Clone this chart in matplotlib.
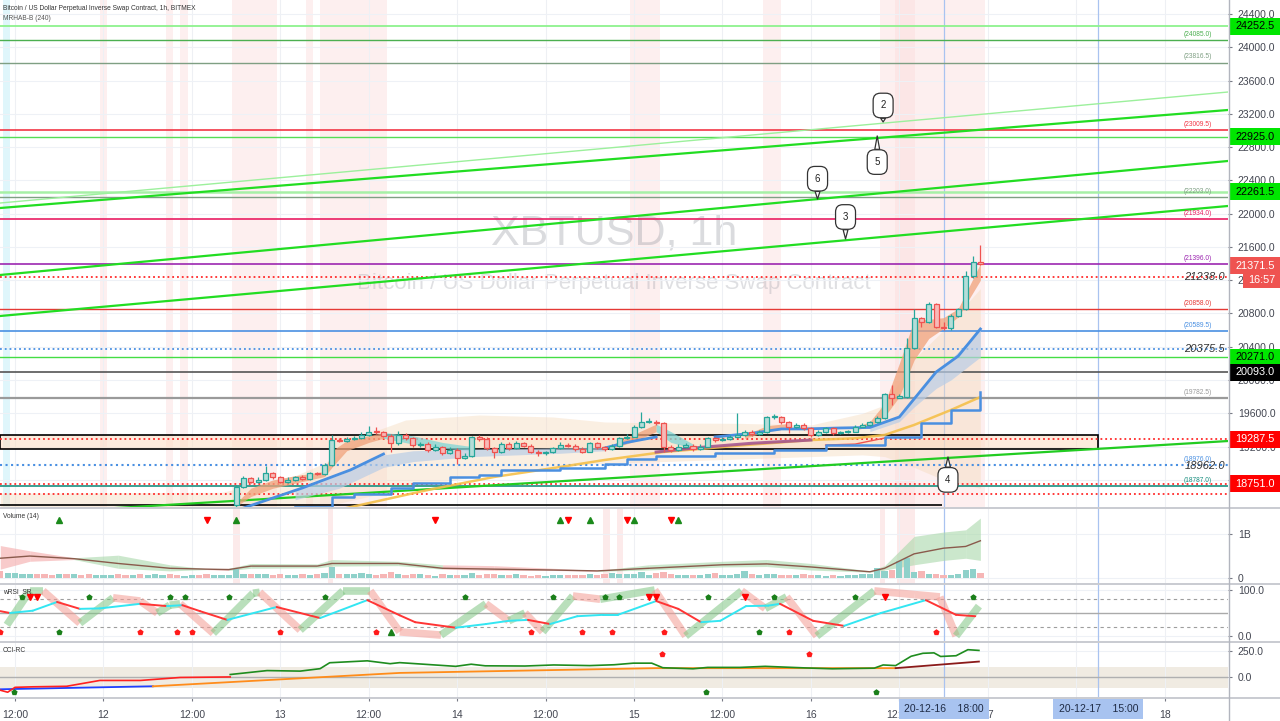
import numpy as np
import matplotlib
matplotlib.use("Agg")
import matplotlib.pyplot as plt
import matplotlib.transforms as mtransforms
from matplotlib.patches import Rectangle
from matplotlib.lines import Line2D

plt.rcParams['font.family'] = ['Liberation Sans', 'DejaVu Sans']

# ---------------------------
# 1. DATA  (x = hours since 2020-12-11 00:00, XBTUSD 1h)
# ---------------------------
first_hour = 42
first_open = 18500
closes = [18714, 18823, 18775, 18800, 18880, 18830, 18775, 18800, 18830, 18815,
          18880, 18870, 18980, 19280, 19270, 19290, 19300, 19340, 19380, 19370,
          19330, 19240, 19340, 19300, 19220, 19230, 19160, 19190, 19120, 19160,
          19060, 19090, 19310, 19290, 19180, 19130, 19230, 19180, 19240, 19210,
          19140, 19120, 19130, 19180, 19220, 19210, 19170, 19140, 19240, 19190,
          19170, 19210, 19300, 19320, 19430, 19490, 19500, 19480, 19200, 19160,
          19200, 19210, 19170, 19200, 19300, 19280, 19290, 19320, 19340, 19380,
          19350, 19370, 19550, 19560, 19490, 19430, 19460, 19420, 19340, 19370,
          19420, 19360, 19370, 19380, 19440, 19460, 19495, 19545, 19830, 19790,
          19800, 20385, 20750, 20700, 20915, 20640, 20620, 20770, 20855, 21250,
          21420, 21400]
highs = [18740, 18850, 18840, 18830, 18967, 18900, 18850, 18830, 18850, 18860,
         18900, 18900, 19000, 19340, 19300, 19320, 19330, 19370, 19450, 19440,
         19390, 19350, 19390, 19360, 19320, 19260, 19250, 19230, 19210, 19190,
         19180, 19120, 19330, 19340, 19310, 19200, 19260, 19250, 19270, 19260,
         19230, 19160, 19150, 19200, 19250, 19240, 19230, 19190, 19260, 19260,
         19210, 19230, 19320, 19350, 19460, 19620, 19540, 19520, 19500, 19220,
         19230, 19240, 19230, 19230, 19320, 19320, 19310, 19340, 19600, 19400,
         19400, 19400, 19570, 19590, 19570, 19510, 19480, 19480, 19440, 19400,
         19440, 19440, 19390, 19400, 19460, 19480, 19510, 19570, 19850, 19940,
         19830, 20505, 20855, 20760, 20940, 20930, 20700, 20790, 20870, 21305,
         21490, 21620]
lows = [18480, 18700, 18760, 18760, 18790, 18815, 18760, 18765, 18790, 18800,
        18800, 18855, 18860, 18970, 19250, 19260, 19280, 19290, 19330, 19350,
        19310, 19135, 19220, 19280, 19200, 19200, 19140, 19150, 19100, 19110,
        18990, 19050, 19080, 19270, 19160, 19060, 19120, 19160, 19170, 19190,
        19120, 19090, 19100, 19120, 19170, 19190, 19150, 19120, 19130, 19170,
        19150, 19160, 19200, 19290, 19310, 19420, 19480, 19460, 19140, 19130,
        19150, 19180, 19150, 19160, 19190, 19260, 19270, 19280, 19310, 19330,
        19330, 19340, 19360, 19530, 19470, 19360, 19420, 19400, 19320, 19330,
        19360, 19340, 19350, 19360, 19370, 19430, 19450, 19480, 19530, 19700,
        19780, 19790, 20370, 20640, 20690, 20620, 20600, 20600, 20760, 20840,
        21230, 21380]

# volume, hours 10..143 (billions)
vol_first = 10
volumes = [0.16, 0.12, 0.11, 0.10, 0.10, 0.08, 0.09, 0.07, 0.09, 0.08,
           0.10, 0.07, 0.09, 0.07, 0.06, 0.07, 0.10, 0.07, 0.06, 0.08,
           0.06, 0.09, 0.07, 0.08, 0.06, 0.05, 0.07, 0.06, 0.08, 0.07, 0.06, 0.07,
           0.20, 0.09, 0.10, 0.08, 0.08, 0.07, 0.09, 0.07, 0.06, 0.10,
           0.07, 0.08, 0.12, 0.24, 0.08, 0.09, 0.10, 0.12, 0.08, 0.07,
           0.10, 0.14, 0.08, 0.06, 0.10, 0.09, 0.06, 0.05, 0.08, 0.07,
           0.06, 0.07, 0.12, 0.06, 0.09, 0.08, 0.07, 0.06, 0.08, 0.06,
           0.05, 0.06, 0.05, 0.06, 0.07, 0.06, 0.07, 0.06, 0.08, 0.06,
           0.08, 0.12, 0.10, 0.10, 0.08, 0.14, 0.06, 0.12, 0.14, 0.10,
           0.06, 0.07, 0.06, 0.07, 0.10, 0.12, 0.06, 0.07, 0.10, 0.16,
           0.08, 0.06, 0.09, 0.08, 0.06, 0.07, 0.06, 0.08, 0.06, 0.06,
           0.05, 0.06, 0.05, 0.06, 0.07, 0.08, 0.10, 0.22, 0.16, 0.18,
           0.38, 0.45, 0.14, 0.16, 0.08, 0.09, 0.07, 0.06, 0.09, 0.18, 0.20, 0.12]
early_dir = "rggggrrrgrgrrgggrrgrgggrrggrrggg"

vma_t = [10, 14, 20, 26, 33, 38, 41, 44, 53, 55, 64, 70, 77, 85, 91, 98, 108, 114, 120, 128, 130, 134, 138, 141, 143]
vma = [0.45, 0.50, 0.44, 0.33, 0.22, 0.20, 0.19, 0.27, 0.27, 0.33, 0.33, 0.22, 0.20, 0.18, 0.16, 0.22, 0.30, 0.32, 0.25, 0.14, 0.22, 0.55, 0.68, 0.72, 0.85]
vma_hi = [0.74, 0.62, 0.46, 0.52, 0.30, 0.21, 0.22, 0.33, 0.32, 0.42, 0.38, 0.30, 0.28, 0.22, 0.17, 0.30, 0.38, 0.42, 0.33, 0.16, 0.28, 0.95, 1.05, 1.10, 1.37]
vma_lo = [0.20, 0.38, 0.42, 0.22, 0.16, 0.19, 0.17, 0.22, 0.23, 0.27, 0.28, 0.20, 0.17, 0.17, 0.15, 0.18, 0.25, 0.26, 0.18, 0.13, 0.18, 0.30, 0.40, 0.45, 0.40]
vma_col = "rrgggrgggggrrrggggggggggg"
vol_up_marks = [18, 42, 86, 90, 96, 102]
vol_dn_marks = [38, 69, 87, 95, 101]

# horizontal levels
level_prices = [24252.5, 24085.0, 23816.5, 23009.5, 22925.0, 22261.5, 22203.0, 21934.0,
                21396.0, 21238.0, 20858.0, 20589.5, 20375.5, 20271.0, 20093.0, 19782.5,
                19287.5, 18976.0, 18727.0, 18751.0, 18630.0]
level_tags = [None, '(24085.0)', '(23816.5)', '(23009.5)', None, None, '(22203.0)', '(21934.0)',
              '(21396.0)', None, '(20858.0)', '(20589.5)', None, None, None, '(19782.5)',
              None, '(18976.0)', '(18787.0)', None, None]
italic_prices = [21238.0, 20375.5, 18962.0]
bottom_black = 18498
box_low, box_high, box_end = 19171, 19340, 159

# trend lines drawn from hour 10 to hour 176.6
trend_start = [22128, 22068, 21263, 20770, 18378]
trend_end = [23462, 23246, 22633, 22092, 19267]

# axis price tags
tag_prices = [24252.5, 22925.0, 22261.5, 21371.5, 20271.0, 20093.0, 19287.5, 18751.0]

# callouts
callout_labels = ['2', '5', '6', '3', '4']
callout_t = [129.8, 129.0, 120.9, 124.7, 138.6]
callout_point = [23102, 22934, 22176, 21696, 19075]
callout_text = [23300, 22620, 22420, 21960, 18800]

# session shading
main_bands = [(23.5, 24.5), (32.5, 33.4), (34.4, 35.5), (41.4, 47.5), (51.5, 52.4),
              (53.4, 62.5), (95.5, 99.5), (113.5, 116.0), (129.4, 143.6), (131.4, 134.1)]
vol_bands = [(41.6, 42.5), (54.5, 55.2), (91.8, 92.7), (93.7, 94.5), (129.4, 130.1), (131.7, 134.1)]

# price overlays
env_t = [10, 40, 50, 55, 60, 65, 75, 85, 92, 100, 110, 120, 127, 130, 134, 138, 143]
env_hi = [18640, 18650, 18850, 19040, 19360, 19520, 19580, 19556, 19496, 19484, 19480, 19460, 19600, 19700, 20250, 20600, 21100]
env_lo = [18300, 18350, 18420, 18500, 18600, 18700, 18850, 18950, 19000, 19020, 19050, 19080, 19100, 19080, 18950, 18800, 18700]

salmon_t = [[42, 44, 47, 50, 54, 55, 57, 60, 62], [93, 96, 99], [111, 114, 117],
            [126, 128, 130, 132, 134, 136, 138, 140, 143]]
salmon_lo = [[18480, 18600, 18700, 18760, 18840, 18950, 19150, 19250, 19300], [19180, 19260, 19380],
             [19300, 19380, 19420], [19400, 19440, 19560, 19800, 20240, 20500, 20620, 20760, 21200]]
salmon_hi = [[18520, 18700, 18800, 18850, 18900, 19150, 19270, 19330, 19370], [19220, 19350, 19470],
             [19340, 19450, 19480], [19430, 19500, 19720, 20200, 20720, 20730, 20750, 20860, 21400]]
cyan_t = [[62, 66, 70, 74], [99, 101, 104]]
cyan_lo = [[19300, 19230, 19180, 19150], [19380, 19250, 19180]]
cyan_hi = [[19370, 19330, 19250, 19200], [19470, 19380, 19230]]

sky_t = [50, 56, 62, 66, 74, 86, 92]
sky_hi = [18690, 18860, 19100, 19150, 19170, 19185, 19190]
sky_lo = [18560, 18700, 18950, 19020, 19080, 19120, 19150]
sky2_t = [128, 132, 134, 137, 139, 143]
sky2_hi = [19430, 19556, 19800, 20097, 20250, 20614]
sky2_lo = [19380, 19500, 19676, 19900, 20001, 20277]

blue_t = [[43, 51, 57.5, 62], [92, 95, 99], [107, 112, 116, 119, 124, 128, 132, 137, 140, 143]]
blue_p = [[18462, 18703, 18919, 19111], [19183, 19250, 19316],
          [19316, 19360, 19412, 19412, 19424, 19430, 19556, 20097, 20289, 20614]]
step_t = [50, 55, 58, 63, 66, 71, 75, 78, 86, 92, 95, 99, 107, 115, 122, 130, 135, 139, 142, 143]
step_p = [18474, 18594, 18630, 18703, 18763, 18835, 18859, 18919, 18943, 18991, 19051, 19087,
          19123, 19159, 19219, 19316, 19484, 19640, 19640, 19856]
gold_t = [57, 68, 77, 86, 92, 100, 110, 120, 126, 130, 134, 139, 143]
gold_p = [18462, 18678, 18835, 18955, 19039, 19135, 19210, 19279, 19300, 19340, 19460, 19640, 19796]
purple_t = [99, 105, 112, 120]
purple_p = [19135, 19190, 19240, 19279]
thinred_t = [122, 126, 130]
thinred_p = [19219, 19230, 19303]

# wRSI_SR
rsi_t = [10.0, 11.3, 14.4, 17.7, 20.8, 23.5, 29.0, 32.6, 34.7, 37.1, 40.8, 47.5, 50.7, 53.4, 59.8,
         64.2, 66.3, 71.8, 75.9, 79.0, 81.6, 84.6, 88.3, 91.8, 93.8, 99.0, 102.0, 105.1, 107.7,
         111.2, 114.2, 115.8, 120.3, 124.5, 129.5, 135.6, 139.7, 142.3]
rsi_v = [54, 50, 55, 74, 59, 60, 70, 65, 67, 54, 35, 63, 50, 39, 78, 45, 30, 18, 26, 33, 35, 26,
         43, 46, 46, 76, 59, 30, 33, 65, 66, 70, 33, 22, 50, 78, 46, 43]
sig_t = [10.9, 14.0, 15.8, 20.8, 25.3, 29.0, 31.3, 33.0, 34.4, 38.9, 44.3, 45.2, 50.7, 56.5, 60.2,
         64.2, 69.8, 75.9, 79.0, 81.2, 83.6, 87.7, 91.4, 98.8, 103.0, 110.6, 113.8, 116.7, 120.8,
         128.6, 134.1, 137.5, 139.7, 142.8]
sig_v = [24, 98, 98, 28, 83, 76, 50, 67, 70, 6, 93, 95, 13, 98, 98, 9, 2, 70, 33, 50, 9, 87, 80,
         100, 0, 98, 60, 85, 0, 98, 90, 85, 0, 65]
rsi_top_up = [13, 22, 33, 35, 41, 54, 73, 85, 92, 94, 106, 115, 126, 142]
rsi_top_dn = [14, 15, 98, 99, 111, 130]
rsi_bot_red = [10, 29, 34, 36, 48, 61, 82, 89, 93, 100, 117, 137]
rsi_bot_green = [18, 113]
rsi_bot_tri = [63]

# CCI-RC
cci_red_t = [10, 11, 12, 14.4, 19, 23.5, 29, 34.4, 41.2]
cci_red = [-120, -139, -93, -88, -83, -28, -28, 0, 5]
cci_green_t = [41.2, 46.2, 50.7, 53.4, 54.7, 59.8, 62.9, 64.2, 71.8, 73.9, 75.8, 81.2, 85.1, 90.0,
               93.3, 95.9, 98.4, 99.9, 104.0, 106.0, 110.4, 113.8, 119.3, 122.9, 128.6, 129.8,
               131.5, 133.6, 135.2, 136.7, 137.6, 139.7, 141.3, 142.8]
cci_green = [28, 65, 60, 83, 139, 157, 130, 140, 105, 125, 110, 108, 118, 112, 120, 135, 135, 92,
             82, 95, 95, 105, 90, 82, 88, 118, 112, 200, 228, 232, 198, 205, 262, 255]
cci_blue_t = [10, 30.7]
cci_blue = [-111, -83]
cci_orange_t = [30.7, 64.2, 99.0, 131.5]
cci_orange = [-83, 43, 88, 88]
cci_dred_t = [131.5, 142.8]
cci_dred = [88, 150]
cci_up_marks = [11.9, 105.8, 128.8]
cci_dn_marks = [99.8, 119.7]

# ---------------------------
# 2. FIGURE LAYOUT
# ---------------------------
W, H = 1280, 721
fig = plt.figure(figsize=(12.8, 7.21), dpi=100)
fig.patch.set_facecolor('white')


def panel(top, bottom):
    return [0, (H - bottom) / H, 1228 / W, (bottom - top) / H]


ax = fig.add_axes(panel(0, 507))
axv = fig.add_axes(panel(508, 584), sharex=ax)
axr = fig.add_axes(panel(585, 641), sharex=ax)
axc = fig.add_axes(panel(643, 697), sharex=ax)

ticks_12h = np.arange(12, 169, 12)
for a in (ax, axv, axr, axc):
    for s in a.spines.values():
        s.set_visible(False)
    a.yaxis.tick_right()
    a.tick_params(axis='y', length=3, pad=4, labelsize=7.5, colors='#787b86', labelcolor='#434651')
    a.tick_params(axis='x', length=0, labelbottom=False)
    a.set_xticks(ticks_12h)
    a.grid(True, axis='x', color='#eef0f4', lw=0.8)
    a.set_axisbelow(True)
    a.axvline(138, color='#a9c3f0', lw=0.9, zorder=1)
    a.axvline(159, color='#a9c3f0', lw=0.9, zorder=1)
ax.set_xlim(9.96, 176.6)

# ---------------------------
# 3. MAIN PRICE PANEL
# ---------------------------
ax.set_ylim(18474, 24568)
pt = np.arange(18800, 24401, 400)
ax.set_yticks(pt)
ax.set_yticklabels([f"{v:.1f}" for v in pt])
ax.grid(True, axis='y', color='#eef1f6', lw=0.8)

ax.axvspan(10.4, 11.3, color='#dff6fb', lw=0, zorder=0)
for a0, a1 in main_bands:
    ax.axvspan(a0, a1, color='#fbdcdc', alpha=0.45, lw=0, zorder=0)

ax.text(0.5, 1 - 233 / 507, "XBTUSD, 1h", transform=ax.transAxes, ha='center', va='center',
        fontsize=31, color='#9598a1', alpha=0.35, zorder=0.5)
ax.text(0.5, 1 - 284 / 507, "Bitcoin / US Dollar Perpetual Inverse Swap Contract",
        transform=ax.transAxes, ha='center', va='center', fontsize=16, color='#9598a1', alpha=0.3, zorder=0.5)
ax.text(3 / 1228, 1 - 8 / 507, "Bitcoin / US Dollar Perpetual Inverse Swap Contract, 1h, BITMEX",
        transform=ax.transAxes, ha='left', va='center', fontsize=4.8, color='#333333')
ax.text(3 / 1228, 1 - 19 / 507, "MRHAB-B (240)", transform=ax.transAxes, ha='left', va='center',
        fontsize=4.8, color='#555555')

ax.fill_between(env_t, env_lo, env_hi, color='#f6dcc0', alpha=0.45, lw=0, zorder=1)
ax.add_patch(Rectangle((9.96, box_low), box_end - 9.96, box_high - box_low,
                       fc=(0.99, 0.87, 0.76, 0.55), ec='black', lw=1.2, zorder=1.5))

level_styles = [('#8ef28e', '-', 1.3), ('#4caf50', '-', 1.0), ('#7f9f83', '-', 1.0), ('#f23645', '-', 1.2),
                ('#55dd55', '-', 1.0), ('#a6f0a6', '-', 1.8), ('#7f9f83', '-', 1.0), ('#e91e63', '-', 1.2),
                ('#9c27b0', '-', 1.2), ('#ff2a2a', ':', 1.3), ('#e53935', '-', 1.0), ('#4a90e2', '-', 1.2),
                ('#4a90e2', ':', 1.3), ('#44dd44', '-', 1.0), ('#555555', '-', 1.2), ('#9a9a9a', '-', 1.6),
                ('#ff2a2a', ':', 1.3), ('#4a90e2', ':', 1.5), ('#1a8f80', '-', 1.2), ('#ff2a2a', ':', 1.3),
                ('#ff2a2a', ':', 1.3)]
trans = mtransforms.blended_transform_factory(ax.transAxes, ax.transData)
for p, tag, (c, ls, lw) in zip(level_prices, level_tags, level_styles):
    ax.axhline(p, color=c, ls=ls, lw=lw, zorder=2)
    if tag:
        ax.text(1212 / 1228, p + 25, tag, transform=trans, ha='right', va='bottom', fontsize=4.8, color=c)
for p in italic_prices:
    ax.text(1225 / 1228, p, f"{p:.1f}", transform=trans, ha='right', va='center', fontsize=8,
            style='italic', color='#333333', zorder=9)
ax.hlines(bottom_black, 9.96, 137.8, color='black', lw=1.2, zorder=2)

trend_styles = [('#9cf09c', 1.0), ('#22dd22', 1.6), ('#22dd22', 1.6), ('#22dd22', 1.6), ('#22cc22', 1.6)]
for p0, p1, (c, lw) in zip(trend_start, trend_end, trend_styles):
    ax.plot([10, 176.6], [p0, p1], color=c, lw=lw, zorder=2.5)

for tt, lo, hi in zip(salmon_t, salmon_lo, salmon_hi):
    ax.fill_between(tt, lo, hi, color='#f0a27a', alpha=0.75, lw=0, zorder=3)
for tt, lo, hi in zip(cyan_t, cyan_lo, cyan_hi):
    ax.fill_between(tt, lo, hi, color='#7fd6d6', alpha=0.75, lw=0, zorder=3)
ax.fill_between(sky_t, sky_lo, sky_hi, color='#b9cde6', alpha=0.7, lw=0, zorder=3)
ax.fill_between(sky2_t, sky2_lo, sky2_hi, color='#b9cde6', alpha=0.7, lw=0, zorder=3)

ax.plot(gold_t, gold_p, color='#f5c04a', lw=1.8, alpha=0.9, zorder=4)
ax.plot(purple_t, purple_p, color='#a0508f', lw=2.2, alpha=0.85, zorder=4)
ax.plot(thinred_t, thinred_p, color='#ef5350', lw=1.0, zorder=4)
ax.plot(step_t, step_p, color='#4a8fe0', lw=1.8, drawstyle='steps-post', zorder=4)
for tt, pp in zip(blue_t, blue_p):
    ax.plot(tt, pp, color='#4a8fe0', lw=2.0, zorder=4)

# candles
hours = np.arange(first_hour, first_hour + len(closes))
opens = [first_open] + closes[:-1]
for t, o, c, hi, lo in zip(hours, opens, closes, highs, lows):
    up = c >= o
    ec = '#26a69a' if up else '#ef5350'
    fc = '#b4ddd8' if up else '#f7b9b7'
    ax.vlines(t, lo, hi, color=ec, lw=0.9, zorder=5)
    ax.bar(t, max(abs(c - o), 14), bottom=min(o, c), width=0.68, color=fc, edgecolor=ec, lw=0.9, zorder=5.5)

for lab, t, p_pt, p_txt in zip(callout_labels, callout_t, callout_point, callout_text):
    ax.annotate(lab, xy=(t, p_pt), xytext=(t, p_txt), ha='center', va='center', fontsize=7,
                color='#222222', zorder=8,
                bbox=dict(boxstyle='round,pad=0.75', fc='white', ec='#333333', lw=0.9),
                arrowprops=dict(arrowstyle='wedge,tail_width=0.5,shrink_factor=0.5', fc='white',
                                ec='#333333', lw=0.9, shrinkA=0, shrinkB=0))

# price tags on the axis
tag_fc = ['#00e600', '#00e600', '#00e600', '#ef5350', '#00e600', '#000000', '#ff0000', '#ff0000']
tag_tc = ['black', 'black', 'black', 'white', 'black', 'white', 'white', 'white']
for p, fc, tc in zip(tag_prices, tag_fc, tag_tc):
    ax.add_patch(Rectangle((1 + 1 / 1228, p - 8.5 * 12.02), 52 / 1228, 17 * 12.02, transform=trans,
                           clip_on=False, fc=fc, ec='none', zorder=10))
    ax.text(1 + 27 / 1228, p, f"{p:.1f}", transform=trans, ha='center', va='center', fontsize=7.8,
            color=tc, clip_on=False, zorder=11)
ax.add_patch(Rectangle((1 + 15 / 1228, 21197 - 7.5 * 12.02), 38 / 1228, 15 * 12.02, transform=trans,
                       clip_on=False, fc='#ef5350', ec='none', zorder=10))
ax.text(1 + 34 / 1228, 21197, "16:57", transform=trans, ha='center', va='center', fontsize=7.8,
        color='white', clip_on=False, zorder=11)

# ---------------------------
# 4. VOLUME PANEL
# ---------------------------
axv.set_ylim(-0.14, 1.60)
axv.set_yticks([0, 1])
axv.set_yticklabels(['0', '1B'])
axv.grid(True, axis='y', color='#eef1f6', lw=0.8)
for a0, a1 in vol_bands:
    axv.axvspan(a0, a1, color='#fbdcdc', alpha=0.6, lw=0, zorder=0)
vol_hours = np.arange(vol_first, vol_first + len(volumes))
vcols = []
for t in vol_hours:
    if t >= first_hour:
        i = t - first_hour
        up = closes[i] >= opens[i]
    else:
        up = early_dir[t - vol_first] == 'g'
    vcols.append('#8fd1ca' if up else '#f6b6b6')
axv.bar(vol_hours, volumes, width=0.85, color=vcols, zorder=2)
for i in range(len(vma_t) - 1):
    col = '#a9d8aa' if vma_col[i] == 'g' else '#f4a9a9'
    axv.fill_between(vma_t[i:i + 2], vma_lo[i:i + 2], vma_hi[i:i + 2], color=col, alpha=0.6, lw=0, zorder=1.5)
axv.plot(vma_t, vma, color='#8a5a4c', lw=1.0, zorder=3)
axv.plot(vol_up_marks, [1.33] * len(vol_up_marks), '^', color='#1b8a1b', ms=4, zorder=4)
axv.plot(vol_dn_marks, [1.33] * len(vol_dn_marks), 'v', color='#ff0000', ms=4, zorder=4)
axv.text(3 / 1228, 1 - 8 / 76, "Volume (14)", transform=axv.transAxes, ha='left', va='center',
         fontsize=4.8, color='#333333')

# ---------------------------
# 5. wRSI_SR PANEL
# ---------------------------
axr.set_ylim(-10.9, 110.9)
axr.set_yticks([0, 100])
axr.set_yticklabels(['0.0', '100.0'])
axr.grid(True, axis='y', color='#eef1f6', lw=0.8)
axr.axhline(80, color='#9e9e9e', ls=(0, (3, 3)), lw=0.8)
axr.axhline(20, color='#9e9e9e', ls=(0, (3, 3)), lw=0.8)
axr.axhline(50, color='#aaaaaa', lw=1.0)
for i in range(len(sig_t) - 1):
    col = '#80c683' if sig_v[i + 1] >= sig_v[i] else '#f49b93'
    axr.plot(sig_t[i:i + 2], sig_v[i:i + 2], color=col, lw=5.5, alpha=0.55, solid_capstyle='butt', zorder=2)
for i in range(len(rsi_t) - 1):
    col = '#33e6f2' if rsi_v[i + 1] >= rsi_v[i] else '#ff3535'
    axr.plot(rsi_t[i:i + 2], rsi_v[i:i + 2], color=col, lw=1.4, solid_capstyle='round', zorder=3)
axr.plot(rsi_top_up, [85] * len(rsi_top_up), 'p', color='#1a7f1a', ms=3.5, zorder=4)
axr.plot(rsi_top_dn, [85] * len(rsi_top_dn), 'v', color='#ff0000', ms=4, zorder=4)
axr.plot(rsi_bot_red, [9] * len(rsi_bot_red), 'p', color='#ff1a1a', ms=3.5, zorder=4)
axr.plot(rsi_bot_green, [9] * len(rsi_bot_green), 'p', color='#1a7f1a', ms=3.5, zorder=4)
axr.plot(rsi_bot_tri, [9] * len(rsi_bot_tri), '^', color='#1a7f1a', ms=4, zorder=4)
axr.text(3 / 1228, 1 - 7 / 56, "wRSI_SR", transform=axr.transAxes, ha='left', va='center',
         fontsize=4.8, color='#333333')

# ---------------------------
# 6. CCI-RC PANEL
# ---------------------------
axc.set_ylim(-184, 325)
axc.set_yticks([0, 250])
axc.set_yticklabels(['0.0', '250.0'])
axc.grid(True, axis='y', color='#eef1f6', lw=0.8)
axc.axhspan(-100, 100, color='#efe9df', alpha=0.9, lw=0, zorder=0.5)
axc.axhline(0, color='#b0b0b0', lw=1.0, zorder=1)
axc.plot(cci_blue_t, cci_blue, color='#1f3fff', lw=1.3, zorder=3)
axc.plot(cci_orange_t, cci_orange, color='#ff8c1a', lw=1.3, zorder=3)
axc.plot(cci_dred_t, cci_dred, color='#8b1a1a', lw=1.3, zorder=3)
axc.plot(cci_red_t, cci_red, color='#ff2020', lw=1.2, zorder=3)
axc.plot(cci_green_t, cci_green, color='#1e8c1e', lw=1.2, zorder=3)
axc.plot(cci_up_marks, [-140] * len(cci_up_marks), 'p', color='#1a7f1a', ms=3.5, zorder=4)
axc.plot(cci_dn_marks, [225] * len(cci_dn_marks), 'p', color='#ff1a1a', ms=3.5, zorder=4)
axc.text(3 / 1228, 1 - 8 / 54, "CCI-RC", transform=axc.transAxes, ha='left', va='center',
         fontsize=4.8, color='#333333')

# time axis
tlabels = [str(11 + t // 24) if t % 24 == 0 else '12:00' for t in ticks_12h]
axc.set_xticks(ticks_12h)
axc.set_xticklabels(tlabels)
axc.tick_params(axis='x', length=3, pad=6, labelsize=7.5, colors='#787b86', labelcolor='#434651',
                labelbottom=True)
ttrans = mtransforms.blended_transform_factory(axc.transData, axc.transAxes)
for t, txt in [(138, "20-12-16    18:00"), (159, "20-12-17    15:00")]:
    axc.text(t, -0.225, txt, transform=ttrans, ha='center', va='center', fontsize=7.5, color='#1e2a44',
             clip_on=False, zorder=12,
             bbox=dict(boxstyle='square,pad=0.5', fc='#a8c3f0', ec='none'))

# separators and right scale border
for py in (507.5, 584, 642, 697.5):
    fig.add_artist(Line2D([0, 1], [1 - py / H, 1 - py / H], transform=fig.transFigure,
                          color='#c9cbd1', lw=1.4))
fig.add_artist(Line2D([1228.5 / W, 1228.5 / W], [0, 1], transform=fig.transFigure, color='#b2b5be', lw=1.0))

fig.savefig("out.png", dpi=100)
